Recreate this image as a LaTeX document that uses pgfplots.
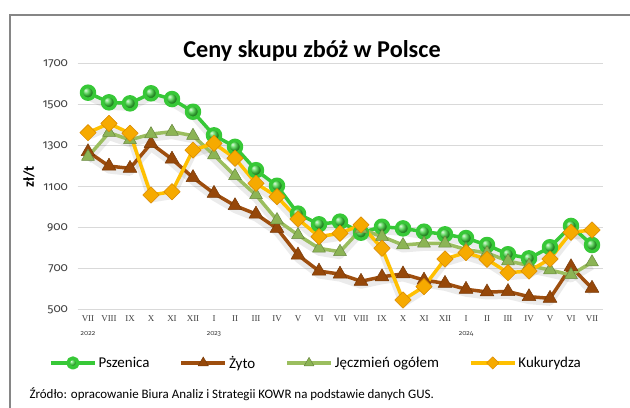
\documentclass[border=0pt]{standalone}
\usepackage{fontspec}
\setmainfont{Carlito}
\newfontfamily\onum{Fira Sans}[Numbers=OldStyle]
\newfontfamily\serifm{Liberation Serif}
\usepackage{pgfplots}
\usepackage{pgfplotstable}
\pgfplotsset{compat=1.18}
\definecolor{pszL}{RGB}{55,200,55}
\definecolor{pszM}{RGB}{60,210,60}
\definecolor{zytL}{RGB}{158,78,14}
\definecolor{zytM}{RGB}{150,72,10}
\definecolor{jecL}{RGB}{155,190,95}
\definecolor{jecM}{RGB}{140,180,85}
\definecolor{kukL}{RGB}{255,192,0}
\definecolor{kukM}{RGB}{246,170,0}
\definecolor{kukD}{RGB}{215,135,0}
\definecolor{gridc}{RGB}{217,217,217}
\definecolor{txt}{RGB}{64,64,64}
\definecolor{framec}{RGB}{134,134,134}
\pgfplotstableread{
x psz zyto jecz kuk
0 1560 1272 1248 1365
1 1513 1202 1365 1410
2 1508 1191 1330 1362
3 1557 1312 1358 1061
4 1529 1236 1370 1077
5 1467 1146 1350 1280
6 1352 1069 1256 1313
7 1296 1009 1154 1240
8 1182 968 1061 1118
9 1106 898 939 1053
10 970 768 866 944
11 918 690 801 858
12 931 675 784 874
13 877 640 895 915
14 906 662 858 801
15 898 676 817 549
16 882 646 825 614
17 869 630 825 749
18 851 601 795 780
19 817 588 778 747
20 772 590 739 682
21 752 565 717 690
22 806 557 695 749
23 910 711 671 879
24 817 606 733 890
}\data
\newcommand{\yr}[1]{\\[3bp]{\onum\fontsize{7}{8}\selectfont #1}}
\begin{document}
\begin{tikzpicture}
\useasboundingbox (0bp,0bp) rectangle (630bp,408bp);
\draw[framec, line width=1.6bp] (10bp,0bp) -- (10bp,393bp) -- (630bp,393bp);
\node[anchor=base, font=\bfseries\fontsize{24.3}{28}\selectfont] at (312bp,350bp) {Ceny skupu zbóż w Polsce};
\node[rotate=90, font=\bfseries\fontsize{15}{18}\selectfont] at (29bp,231bp) {zł/t};
\begin{axis}[
  at={(77.5bp,98bp)}, anchor=south west, scale only axis,
  width=525bp, height=246bp,
  xmin=-0.5, xmax=24.5, ymin=500, ymax=1700,
  axis line style={draw=none},
  major tick length=0pt,
  ytick={500,700,...,1700},
  ymajorgrids, grid style={gridc, line width=1bp},
  /pgf/number format/assume math mode=true,
  /pgf/number format/1000 sep={},
  yticklabel style={font=\onum\fontsize{12}{14}\selectfont, text=txt, xshift=-6bp},
  xtick={0,...,24},
  xticklabels={{VII\yr{2022}},VIII,IX,X,XI,XII,{I\yr{2023}},II,III,IV,V,VI,VII,VIII,IX,X,XI,XII,{I\yr{2024}},II,III,IV,V,VI,VII},
  xticklabel style={font=\serifm\fontsize{9}{11}\selectfont, text=txt, align=center, yshift=-2bp},
  clip=false,
  legend columns=4,
  legend style={at={(-0.0543,-0.2154)}, anchor=west, draw=none, fill=none, inner sep=0pt,
    font=\fontsize{15}{18}\selectfont, text=black,
    /tikz/every even column/.append style={column sep=28bp}},
  legend cell align=left,
  legend image code/.code={\draw[mark repeat=2,mark phase=2,#1, every mark/.append style={scale=0.75}] plot coordinates {(0bp,0bp) (22bp,0bp) (44bp,0bp)};},
]
\addplot[forget plot, draw=black, opacity=0.08, line width=7bp, yshift=-4bp, line join=round] table[x=x,y=psz]{\data};
\addplot[forget plot, draw=black, opacity=0.08, line width=7bp, yshift=-4bp, line join=round] table[x=x,y=zyto]{\data};
\addplot[forget plot, draw=black, opacity=0.08, line width=7bp, yshift=-4bp, line join=round] table[x=x,y=jecz]{\data};
\addplot[forget plot, draw=black, opacity=0.08, line width=7bp, yshift=-4bp, line join=round] table[x=x,y=kuk]{\data};

\addplot[pszL, line width=3.5bp, line join=round, mark=ball, mark size=6.5bp, mark options={ball color=pszM}] table[x=x,y=psz]{\data};
\addlegendentry{Pszenica}
\addplot[zytL, line width=3.5bp, line join=round, mark=triangle*, mark size=8bp, mark options={fill=zytM, draw=zytM!80!black, line width=0.5bp}] table[x=x,y=zyto]{\data};
\addlegendentry{Żyto}
\addplot[jecL, line width=3.5bp, line join=round, mark=triangle*, mark size=7.5bp, mark options={fill=jecM, draw=jecM!75!black, line width=0.5bp}] table[x=x,y=jecz]{\data};
\addlegendentry{Jęczmień ogółem}
\addplot[kukL, line width=3.5bp, line join=round, mark=square*, mark size=5.8bp, mark options={rotate=45, fill=kukM, draw=kukD, line width=0.5bp}] table[x=x,y=kuk]{\data};
\addlegendentry{Kukurydza}
\end{axis}
\node[anchor=base west, font=\fontsize{13}{15}\selectfont, text=black] at (26bp,10bp) {Źródło: opracowanie Biura Analiz i Strategii KOWR na podstawie danych GUS.};
\end{tikzpicture}
\end{document}
